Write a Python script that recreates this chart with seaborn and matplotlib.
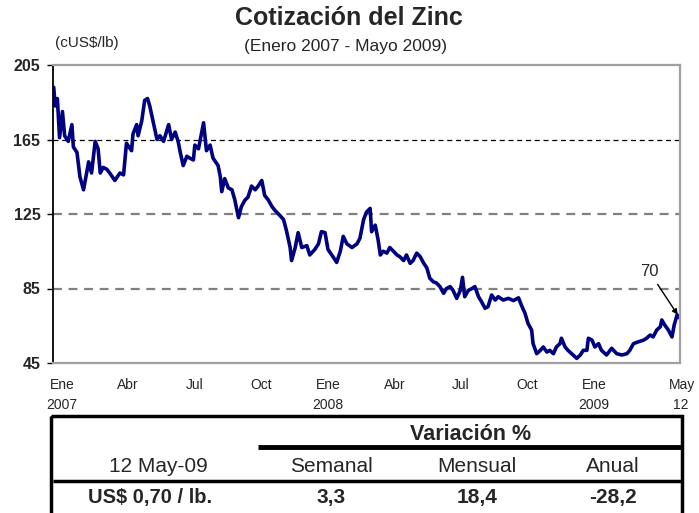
import matplotlib
matplotlib.use("Agg")
import matplotlib.pyplot as plt
import matplotlib.dates as mdates
from matplotlib.patches import Rectangle
from matplotlib.transforms import ScaledTranslation
import numpy as np
import pandas as pd
import seaborn as sns

# dias desde el 1 de enero de 2007
dias = [1, 3, 6, 9, 13, 16, 21, 26, 28, 33, 37, 42, 49, 53, 58, 62, 65, 69, 74, 78,
        85, 92, 97, 101, 108, 110, 115, 117, 122, 126, 130, 133, 138, 143, 147, 152, 159, 163, 168, 172,
        175, 179, 184, 188, 193, 195, 200, 207, 211, 216,
        220, 227, 230, 232, 236, 241, 246, 250, 255, 259, 264, 268, 273, 278, 282, 287, 291, 296, 301, 305,
        310, 317, 321, 326, 328, 333, 337, 342, 349, 353, 360, 365, 369, 374, 378, 385, 390, 395, 399, 404,
        411, 418,
        422, 427, 431, 436, 438, 443, 447, 450, 454, 459, 463, 468, 473, 477, 482, 486, 491, 495, 500, 505,
        509, 514, 518, 523, 527, 532, 537, 541, 546, 550, 555, 560, 563, 566, 571, 576, 580, 585, 589, 594,
        598, 603, 608, 612, 619, 626, 633, 640,
        644, 649, 653, 658, 660, 665, 670, 674, 679, 683, 688, 692, 697, 699, 704, 708, 713, 720, 725, 729,
        734, 736, 741, 745, 750, 754, 761, 768, 775, 782, 789, 793, 798, 805, 812, 816, 821, 825, 830, 835,
        837, 841, 846, 851, 854, 858, 862]

# cUS$/lb
valores = [193, 183, 187, 166, 180, 167, 164, 173, 161, 158, 145, 138, 153, 147, 164, 160, 147, 150, 149, 147,
           143, 147, 146, 163, 159, 168, 173, 167, 175, 186, 187, 183, 174, 165, 167, 164, 173, 165, 169, 164,
           158, 151, 156, 155, 154, 162, 160, 174, 159, 162,
           155, 151, 145, 137, 144, 139, 138, 132.5, 123, 129, 132.5, 134, 140, 138, 140, 143, 135, 132.5, 129, 127,
           125, 122, 116, 107, 100, 107, 115, 107, 108, 103, 106, 109, 115.5, 115, 106, 102, 99, 105, 113, 109,
           107, 109,
           112, 122, 126, 128, 115.5, 119, 111, 103, 105, 104, 107, 105, 103, 102, 100, 103, 98.5, 100, 104, 102,
           99, 96, 90.5, 88.6, 88, 86, 82.4, 85, 86, 84, 79.7, 84, 91, 80.6, 84, 85, 86, 80.6, 78, 74.4,
           75.2, 81.5, 78.8, 80.6, 78.8, 79.7, 78.5, 80,
           76, 71.6, 66.3, 62.7, 55.4, 50, 51.8, 53.6, 50.9, 51.8, 50, 53.6, 55.4, 58.3, 53.6, 51.8, 50, 47.5, 49.3, 51.8,
           51.8, 58.3, 57.3, 53.6, 55.4, 51.8, 49.3, 52.9, 50, 49.3, 50, 51.8, 55.4, 56.4, 57.3, 58.3, 60, 59, 62.7, 64.5,
           68.1, 65.4, 62.7, 59, 65.4, 70.8, 69]

meses = ["Ene", "Abr", "Jul", "Oct", "Ene", "Abr", "Jul", "Oct", "Ene", "May"]
mes_fechas = ["2007-01-01", "2007-04-01", "2007-07-01", "2007-10-01", "2008-01-01",
              "2008-04-01", "2008-07-01", "2008-10-01", "2009-01-01", "2009-05-01"]
anios = ["2007", "2008", "2009", "12"]
anio_fechas = ["2007-01-01", "2008-01-01", "2009-01-01", "2009-05-01"]
y_ticks = [45, 85, 125, 165, 205]
ultimo = "70"

tabla_fecha = "12 May-09"
tabla_precio = "US$ 0,70 / lb."
col_nombres = ["Semanal", "Mensual", "Anual"]
col_valores = ["3,3", "18,4", "-28,2"]

df = pd.DataFrame({"fecha": pd.Timestamp("2007-01-01") + pd.to_timedelta(dias, unit="D"),
                   "precio": valores})

sns.set_style("white")
plt.rcParams["font.family"] = ["Liberation Sans", "DejaVu Sans"]

fig = plt.figure(figsize=(6.99, 5.13), dpi=100)
ax = fig.add_axes([53/699, 1-363/513, (680-53)/699, (363-65)/513])

sns.lineplot(data=df, x="fecha", y="precio", ax=ax, color="#000080", lw=2.6)

ax.set_xlim(pd.Timestamp("2007-01-01"), pd.Timestamp("2009-05-12"))
ax.set_ylim(y_ticks[0], y_ticks[-1])
ax.set_xlabel("")
ax.set_ylabel("")

# lineas de referencia
for v in y_ticks[1:-1]:
    if v == 165:
        ax.axhline(v, color="black", lw=0.9, dashes=(4, 3), zorder=1)
    else:
        ax.axhline(v, color="#808080", lw=1.6, dashes=(4, 3), zorder=1)

for s in ["top", "right", "bottom"]:
    ax.spines[s].set_color("#a0a0a0")
    ax.spines[s].set_linewidth(1.6)
ax.spines["left"].set_color("black")
ax.spines["left"].set_linewidth(1.3)

ax.set_yticks(y_ticks)
ax.set_yticklabels([str(v) for v in y_ticks], fontsize=11.5, fontweight="bold")
ax.tick_params(axis="y", length=4, width=1, color="black", direction="out", pad=5, left=True)

xt = [mdates.date2num(pd.Timestamp(f)) for f in mes_fechas]
ax.set_xticks(xt)
ax.set_xticklabels(meses, fontsize=10)
ax.tick_params(axis="x", length=0, pad=11)
off = ScaledTranslation(7/72, 0, fig.dpi_scale_trans)
for lab in ax.get_xticklabels():
    lab.set_transform(lab.get_transform() + off)

for a, f in zip(anios, anio_fechas):
    ax.annotate(a, xy=(mdates.date2num(pd.Timestamp(f)), 0), xycoords=("data", "axes fraction"),
                xytext=(9, -42), textcoords="offset pixels", ha="center", va="center",
                fontsize=10, annotation_clip=False)

ax.annotate(ultimo, xy=(mdates.date2num(df["fecha"].iloc[-1]), df["precio"].iloc[-1]),
            xytext=(-31, 47), textcoords="offset pixels", ha="center", va="center", fontsize=12,
            arrowprops=dict(arrowstyle="-|>", color="black", lw=1, mutation_scale=8, shrinkB=3))

# capa para titulos y tabla, en pixeles
top = fig.add_axes([0, 0, 1, 1], zorder=-1)
top.set_xlim(0, 699)
top.set_ylim(513, 0)
top.axis("off")

top.text(349, 18, "Cotización del Zinc", ha="center", va="center", fontsize=18, fontweight="bold")
top.text(346, 47, "(Enero 2007 - Mayo 2009)", ha="center", va="center", fontsize=12.5)
top.text(55, 43, "(cUS$/lb)", ha="left", va="center", fontsize=11)

top.add_patch(Rectangle((51, 416), 631, 120, fill=False, ec="black", lw=2.5))
top.plot([258, 681], [446.5, 446.5], color="black", lw=3.5, solid_capstyle="butt")
top.plot([53, 681], [480.5, 480.5], color="black", lw=2.5, solid_capstyle="butt")

top.text(471, 434, "Variación %", ha="center", va="center", fontsize=15.5, fontweight="bold")
top.text(158, 467, tabla_fecha, ha="center", va="center", fontsize=15)
top.text(150, 497, tabla_precio, ha="center", va="center", fontsize=14.5, fontweight="bold")
col_x = [331, 477, 613]
for cx, n, v in zip(col_x, col_nombres, col_valores):
    top.text(cx, 467, n, ha="center", va="center", fontsize=15)
    top.text(cx, 497, v, ha="center", va="center", fontsize=15, fontweight="bold")

fig.savefig("out.png", dpi=100)
